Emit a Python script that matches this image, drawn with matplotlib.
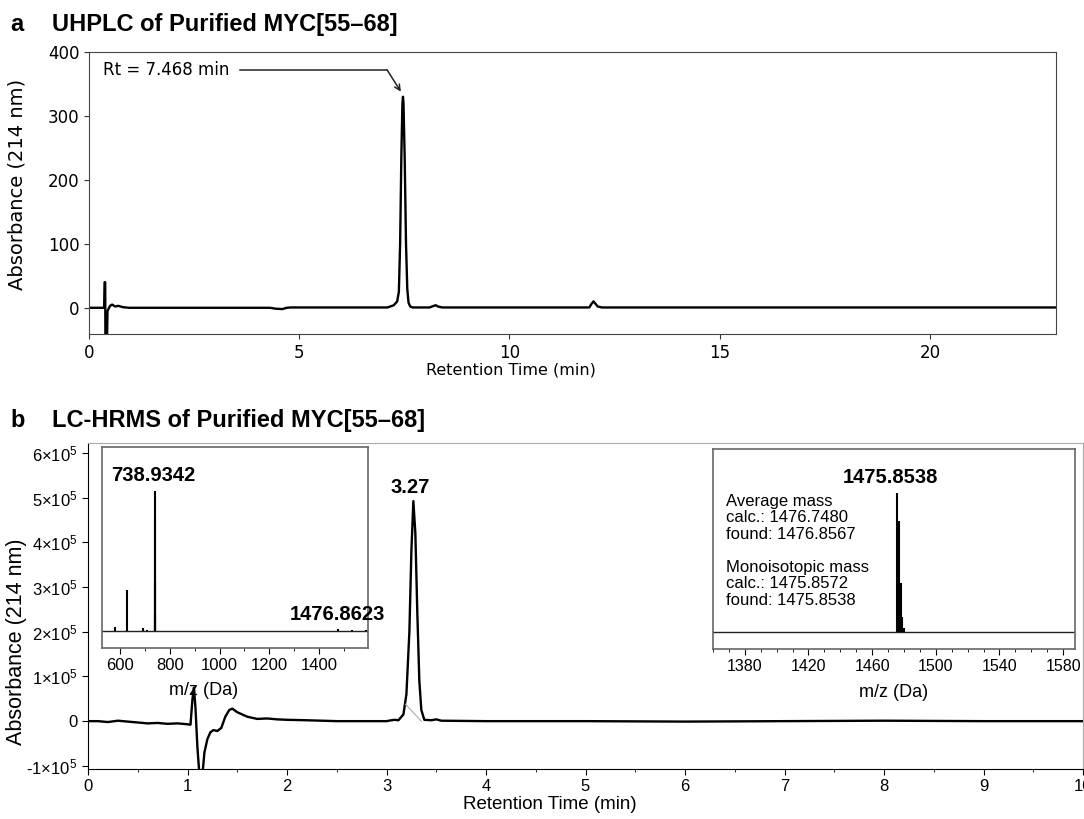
import numpy as np
import matplotlib.pyplot as plt
from matplotlib.ticker import MultipleLocator, FixedLocator, FuncFormatter

# --- data ---
# a: UHPLC trace (min, mAU)
uhplc_time = [0.0, 0.36, 0.37, 0.385, 0.39, 0.43, 0.44, 0.5, 0.55, 0.62, 0.7, 0.8, 0.95,
              4.3, 4.45, 4.6, 4.7, 4.8, 7.1, 7.25, 7.33, 7.37, 7.40, 7.43, 7.455, 7.468,
              7.48, 7.51, 7.54, 7.57, 7.60, 7.64, 7.7, 8.1, 8.2, 8.25, 8.3, 8.4,
              11.9, 11.95, 12.0, 12.05, 12.1, 12.2, 23.0]
uhplc_abs = [0.0, 0.0, 40, 40, -45, -45, -5, 3, 5, 2, 3, 1, 0,
             0.0, -1.5, -2, 0, 0.5, 0.5, 4, 10, 25, 100, 240, 320, 330,
             320, 230, 100, 30, 8, 2, 0.5, 0.5, 3, 4, 2, 0.5,
             0.5, 6, 10, 6, 2, 0.5, 0.5]
rt_value = 7.468
rt_label = 'Rt = 7.468 min'

# b: LC trace (min, absorbance in units of 1e5)
lc_time = [0.0, 0.1, 0.2, 0.3, 0.4, 0.5, 0.6, 0.7, 0.8, 0.9, 1.0, 1.03, 1.05, 1.065, 1.08,
           1.10, 1.12, 1.15, 1.17, 1.2, 1.23, 1.26, 1.3, 1.34, 1.38, 1.42, 1.45, 1.5, 1.6,
           1.7, 1.8, 1.9, 2.0, 2.2, 2.5, 3.0, 3.05, 3.08, 3.12, 3.17, 3.2, 3.23, 3.25, 3.27,
           3.29, 3.31, 3.33, 3.35, 3.38, 3.45, 3.5, 3.55, 4.0, 5.0, 6.0, 7.0, 8.0, 9.0, 10.0]
lc_abs = [0.0, 0.0, -0.02, 0.01, -0.01, -0.03, -0.05, -0.04, -0.06, -0.05, -0.07, -0.08, 0.5, 0.75, 0.3,
          -0.6, -1.2, -1.2, -0.7, -0.4, -0.25, -0.2, -0.22, -0.15, 0.1, 0.25, 0.28, 0.2, 0.1,
          0.05, 0.06, 0.04, 0.03, 0.02, 0.0, 0.0, 0.02, 0.03, 0.02, 0.15, 0.6, 2.0, 3.8, 4.92,
          4.2, 2.4, 0.9, 0.25, 0.03, 0.02, 0.04, 0.01, 0.0, 0.0, -0.01, 0.0, 0.01, 0.0, 0.0]
integ_time = [3.19, 3.35]
integ_abs = [0.38, 0.0]
lc_peak_label = '3.27'
lc_peak_time = 3.27

# inset 1: full MS spectrum (m/z, relative intensity %)
ms1_mz = [580, 628, 692, 708, 738.93, 739.43, 739.93, 740.44, 1476.86, 1532, 1588]
ms1_int = [2.6, 29, 2, 1, 100, 80, 35, 12, 1.2, 0.4, 1.0]
ms1_labels = ['738.9342', '1476.8623']

# inset 2: deconvoluted mass (m/z, relative intensity %)
ms2_mz = [1475.85, 1476.85, 1477.86, 1478.86, 1479.86]
ms2_int = [100, 80, 35, 11, 3]
ms2_ticks = [1380, 1420, 1460, 1500, 1540, 1580]
ms2_label = '1475.8538'
ms2_text = ('Average mass\ncalc.: 1476.7480\nfound: 1476.8567\n\n'
            'Monoisotopic mass\ncalc.: 1475.8572\nfound: 1475.8538')

plt.rcParams['mathtext.fontset'] = 'custom'
plt.rcParams['mathtext.rm'] = 'Liberation Sans'
plt.rcParams['mathtext.it'] = 'Liberation Sans:italic'
plt.rcParams['mathtext.bf'] = 'Liberation Sans:bold'

ARIAL = 'Liberation Sans'
W, H = 1084, 819
fig = plt.figure(figsize=(W / 100, H / 100), dpi=100)

ax_a = fig.add_axes([89 / W, 1 - 334 / H, (1056 - 89) / W, (334 - 52) / H])
ax_b = fig.add_axes([88 / W, 1 - 769 / H, (1083 - 88) / W, (769 - 443) / H])
ins1 = fig.add_axes([102 / W, 1 - 648 / H, 266 / W, 201 / H])
ins2 = fig.add_axes([713 / W, 1 - 649 / H, 362 / W, 200 / H])

# --- panel titles ---
for ypix, letter, title in [(31, 'a', 'UHPLC of Purified MYC[55–68]'),
                            (427, 'b', 'LC-HRMS of Purified MYC[55–68]')]:
    fig.text(10 / W, 1 - ypix / H, letter, family=ARIAL, fontweight='bold', fontsize=17, va='baseline')
    fig.text(52 / W, 1 - ypix / H, title, family=ARIAL, fontweight='bold', fontsize=17, va='baseline')

# --- a: UHPLC ---
ax_a.plot(uhplc_time, uhplc_abs, color='black', lw=1.7)
ax_a.set_xlim(0, 23)
ax_a.set_ylim(-41, 400)
ax_a.set_xticks([0, 5, 10, 15, 20])
ax_a.set_yticks([0, 100, 200, 300, 400])
ax_a.tick_params(labelsize=12, color='#333')
for sp in ax_a.spines.values():
    sp.set_color('#444')
ax_a.set_xlabel('Retention Time (min)', fontsize=11.5)
ax_a.xaxis.set_label_coords(0.436, -0.1)
ax_a.set_ylabel('Absorbance (214 nm)', fontsize=14)
ax_a.yaxis.set_label_coords(-0.065, 0.53)

peak_h = max(uhplc_abs)
ax_a.text(0.33, 372, rt_label, fontsize=12, va='center')
ax_a.plot([3.59, 7.09], [372, 372], color='#222', lw=1.1)
ax_a.annotate('', xy=(rt_value - 0.05, peak_h + 8), xytext=(7.09, 372),
              arrowprops=dict(arrowstyle='->', color='#222', lw=1.1, shrinkA=0, shrinkB=0))

# --- b: LC-HRMS ---
lc_abs_raw = np.array(lc_abs) * 1e5
ax_b.plot(lc_time, lc_abs_raw, color='black', lw=1.7)
ax_b.plot(integ_time, np.array(integ_abs) * 1e5, color='#aaa', lw=0.8)
ax_b.set_xlim(0, 10)
ax_b.set_ylim(-1.07e5, 6.22e5)
ax_b.xaxis.set_major_locator(MultipleLocator(1))
ax_b.xaxis.set_minor_locator(MultipleLocator(0.5))
ax_b.set_yticks(np.arange(-1, 7) * 1e5)


def sci_fmt(v, pos):
    k = int(round(v / 1e5))
    if k == 0:
        return '0'
    return f'{k}×10$^{{5}}$'


ax_b.yaxis.set_major_formatter(FuncFormatter(sci_fmt))
ax_b.tick_params(which='major', length=4, labelsize=12)
ax_b.tick_params(which='minor', length=2.5)
for lab in ax_b.get_xticklabels() + ax_b.get_yticklabels():
    lab.set_family(ARIAL)
ax_b.spines['top'].set_color('#aaa')
ax_b.spines['right'].set_color('#aaa')
ax_b.set_xlabel('Retention Time (min)', family=ARIAL, fontsize=13.5)
ax_b.xaxis.set_label_coords(0.464, -0.082)
ax_b.set_ylabel('Absorbance (214 nm)', family=ARIAL, fontsize=15.5)
ax_b.yaxis.set_label_coords(-0.061, 0.39)
ax_b.text(lc_peak_time - 0.03, 5.23e5, lc_peak_label, family=ARIAL, fontweight='bold',
          fontsize=14.5, ha='center', va='center')

# --- insets ---
for ins in (ins1, ins2):
    ins.axhline(0, color='#222', lw=1.0)
    ins.set_ylim(-12.2, 131.7)
    ins.set_yticks([])
    for sp in ins.spines.values():
        sp.set_color('#666')
        sp.set_linewidth(1.2)
    ins.tick_params(which='major', length=4, labelsize=12)
    ins.tick_params(which='minor', length=2.5)

ins1.vlines(ms1_mz, 0, ms1_int, color='black', lw=1.5)
ins1.set_xlim(528, 1596)
ins1.xaxis.set_major_locator(MultipleLocator(200))
ins1.xaxis.set_minor_locator(MultipleLocator(100))
ins1.set_xlabel('m/z (Da)', family=ARIAL, fontsize=13)
ins1.xaxis.set_label_coords(0.38, -0.17)
ins1.text(ms1_mz[4] - 7, 111, ms1_labels[0], family=ARIAL, fontweight='bold',
          fontsize=14.5, ha='center', va='center')
ins1.text(ms1_mz[8] - 5, 11.5, ms1_labels[1], family=ARIAL, fontweight='bold',
          fontsize=14.5, ha='center', va='center')

ins2.vlines(ms2_mz, 0, ms2_int, color='black', lw=1.5)
ins2.set_xlim(1360, 1587.5)
ins2.xaxis.set_major_locator(FixedLocator(ms2_ticks))
ins2.xaxis.set_minor_locator(MultipleLocator(10))
ins2.tick_params(labelsize=11.5)
ins2.set_xlabel('m/z (Da)', family=ARIAL, fontsize=13)
ins2.xaxis.set_label_coords(0.5, -0.175)
ins2.text(ms2_mz[0] - 4.5, 111, ms2_label, family=ARIAL, fontweight='bold',
          fontsize=14.5, ha='center', va='center')
ins2.text(0.036, 0.775, ms2_text, transform=ins2.transAxes, family=ARIAL,
          fontsize=12, va='top', ha='left', linespacing=1.12)

for ins in (ins1, ins2):
    for lab in ins.get_xticklabels():
        lab.set_family(ARIAL)

fig.savefig('out.png', dpi=100)
